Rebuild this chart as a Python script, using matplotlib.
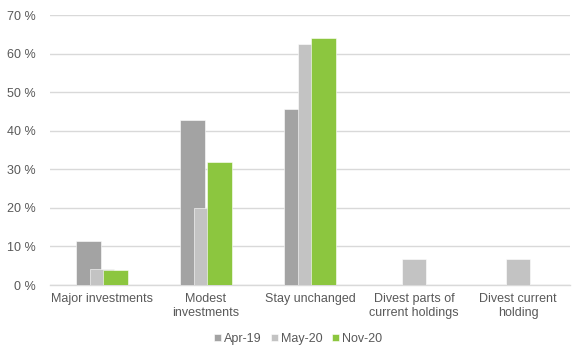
import matplotlib
matplotlib.use("Agg")
import matplotlib.pyplot as plt
import numpy as np
from matplotlib.ticker import FuncFormatter

categories = ["Major investments", "Modest\ninvestments", "Stay unchanged",
              "Divest parts of\ncurrent holdings", "Divest current\nholding"]
series_names = ["Apr-19", "May-20", "Nov-20"]
apr19 = [11.4, 42.7, 45.7, 0, 0]
may20 = [4.2, 20.0, 62.4, 6.7, 6.7]
nov20 = [4.0, 32.0, 64.0, 0, 0]
colors = ["#A3A3A3", "#C3C3C3", "#8CC63F"]

plt.rcParams["font.family"] = ["Liberation Sans", "DejaVu Sans"]
text_color = "#595959"

fig = plt.figure(figsize=(5.74, 3.51), dpi=100)
ax = fig.add_axes([50 / 574, 66 / 351, 520 / 574, 270 / 351])

x = np.arange(len(categories))
offsets = [-0.13, 0.0, 0.13]
width = 0.235
for vals, off, col, name in zip([apr19, may20, nov20], offsets, colors, series_names):
    ax.bar(x + off, vals, width, color=col, edgecolor="white", linewidth=0.4,
           label=name, zorder=3)

ax.set_xlim(-0.5, len(categories) - 0.5)
ax.set_ylim(0, 70)
ax.set_yticks(np.arange(0, 71, 10))
ax.yaxis.set_major_formatter(FuncFormatter(lambda v, p: f"{int(v)} %"))
ax.set_xticks(x)
ax.set_xticklabels(categories)

ax.grid(axis="y", color="#D9D9D9", linewidth=1, zorder=0)
for s in ["top", "right", "left"]:
    ax.spines[s].set_visible(False)
ax.spines["bottom"].set_color("#D9D9D9")
ax.spines["bottom"].set_linewidth(1)
ax.tick_params(axis="both", length=0, labelsize=9, colors=text_color)
ax.tick_params(axis="y", pad=10)
ax.tick_params(axis="x", pad=6)

leg = fig.legend(loc="center", bbox_to_anchor=(298 / 574, 1 - 339 / 351), ncol=3,
                 frameon=False, fontsize=9, handlelength=0.5, handleheight=0.5,
                 handletextpad=0.25, columnspacing=0.8, borderpad=0.2)
for t in leg.get_texts():
    t.set_color(text_color)

fig.savefig("out.png", dpi=100)
